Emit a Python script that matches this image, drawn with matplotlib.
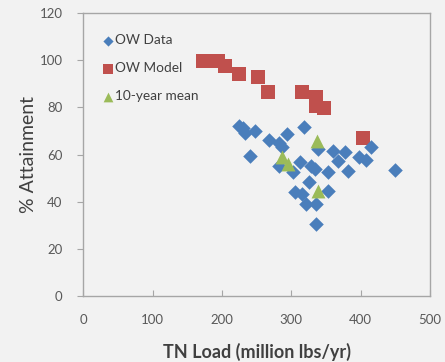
import numpy as np
import matplotlib
matplotlib.use('Agg')
import matplotlib.pyplot as plt

plt.rcParams['font.family'] = ['Lato', 'DejaVu Sans']

#OW data (TN load, % attainment)
data_x = [225, 230, 234, 248, 241, 268, 282, 287, 294, 319, 282, 302, 312, 329, 334,
          338, 360, 367, 378, 353, 382, 398, 408, 415, 450, 325, 305, 316, 321, 336,
          353, 336]
data_y = [72.2, 71.2, 69.3, 70.0, 59.2, 66.1, 65.1, 63.0, 68.9, 71.7, 55.3, 52.5, 56.7,
          55.0, 53.9, 62.3, 61.6, 57.4, 60.9, 52.7, 52.9, 59.1, 57.7, 63.0, 53.6, 48.2,
          44.0, 43.3, 39.1, 39.1, 44.7, 30.7]

#OW model
model_x = [173, 185, 194, 204, 224, 252, 266, 316, 336, 336, 347, 403]
model_y = [99.6, 99.6, 99.6, 97.5, 94.2, 92.8, 86.6, 86.6, 84.4, 80.6, 79.6, 67.2]

#10-year mean
mean_x = [287, 295, 337, 338]
mean_y = [58.8, 56.0, 65.8, 44.7]

bg = '#f2f2f2'
txt = '#404040'
fig = plt.figure(figsize=(4.45, 3.62), dpi=100, facecolor=bg)
ax = fig.add_axes([0.187, 0.182, 0.779, 0.782], facecolor=bg)

ax.scatter(data_x, data_y, marker='D', s=55, c='#4a7ebb', linewidths=0, label='OW Data', zorder=3)
ax.scatter(model_x, model_y, marker='s', s=100, c='#c0504d', linewidths=0, label='OW Model', zorder=2)
ax.scatter(mean_x, mean_y, marker='^', s=100, c='#9bbb59', linewidths=0, label='10-year mean', zorder=4)

ax.set_xlim(0, 500)
ax.set_ylim(0, 120)
ax.set_xticks(np.arange(0, 501, 100))
ax.set_yticks(np.arange(0, 121, 20))

for s in ax.spines.values():
    s.set_color('#a6a6a6')
    s.set_linewidth(1)
ax.tick_params(axis='y', direction='out', length=4, color='#a6a6a6', labelsize=9.5, labelcolor='#595959', pad=11)
ax.tick_params(axis='x', direction='in', length=4, color='#a6a6a6', labelsize=9.5, labelcolor='#595959', pad=13)

ax.set_xlabel('TN Load (million lbs/yr)', fontsize=13, fontweight='bold', color=txt, labelpad=12)
ax.set_ylabel('% Attainment', fontsize=14, color=txt, labelpad=2)

leg = ax.legend(loc='upper left', bbox_to_anchor=(0.057, 0.925), frameon=False, fontsize=9.8,
                handletextpad=0.1, handlelength=0.8, markerscale=0.7, labelspacing=1.18,
                borderaxespad=0, borderpad=0)
for t in leg.get_texts():
    t.set_color(txt)

plt.savefig('out.png', dpi=100, facecolor=bg)
